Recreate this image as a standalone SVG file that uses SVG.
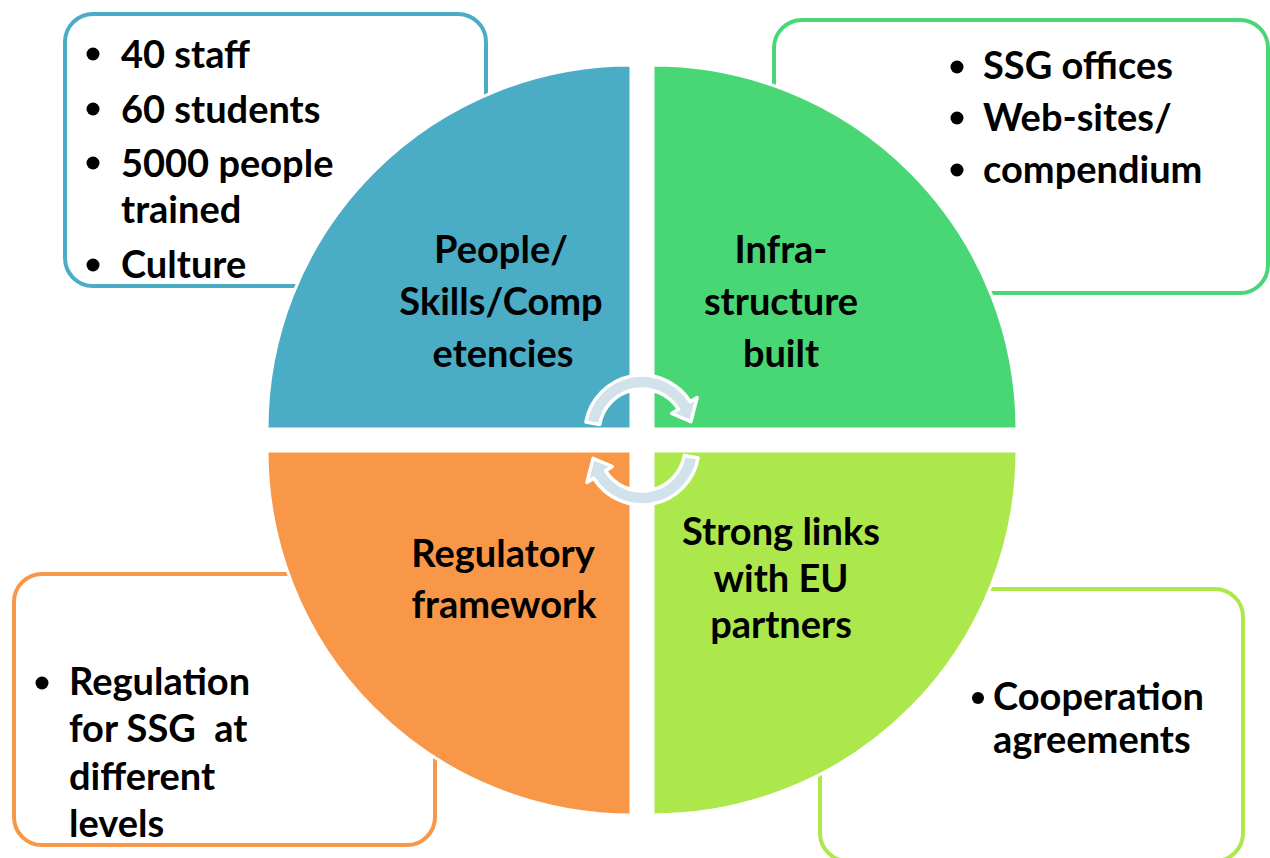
<svg xmlns="http://www.w3.org/2000/svg" width="1270" height="858" viewBox="0 0 1270 858">
<style>
.box{fill:#ffffff;stroke-width:4}
.q{stroke:#ffffff;stroke-width:3}
.t{font-family:Lato,"Open Sans","Liberation Sans",sans-serif;font-weight:bold;font-size:38px;fill:#000000}
.c{text-anchor:middle}
.b{fill:#000000}
.arr{fill:#D2E2EA;stroke:#ffffff;stroke-width:3.5;stroke-linejoin:round}
</style>
<rect width="1270" height="858" fill="#ffffff"/>
<g id="node-people">
<rect class="box" x="65" y="14" width="421" height="272" rx="28" stroke="#4BACC6"/>
<path class="q" d="M631,429 L267,429 A364,364 0 0 1 631,65 Z" fill="#4BACC6"/>
<circle class="b" cx="93" cy="54" r="6.5"/>
<circle class="b" cx="93" cy="109" r="6.5"/>
<circle class="b" cx="93" cy="163" r="6.5"/>
<circle class="b" cx="93" cy="265" r="6.5"/>
<text class="t" x="121" y="68">40 staff</text>
<text class="t" x="121" y="123">60 students</text>
<text class="t" x="121" y="177">5000 people</text>
<text class="t" x="121" y="223">trained</text>
<text class="t" x="121" y="278">Culture</text>
<text class="t c" x="501" y="263">People/</text>
<text class="t c" x="501" y="315">Skills/Comp</text>
<text class="t c" x="503" y="367">etencies</text>
</g>
<g id="node-infra">
<rect class="box" x="774" y="20" width="494" height="273" rx="28" stroke="#49D675"/>
<path class="q" d="M653,429 L653,65 A364,364 0 0 1 1017,429 Z" fill="#49D675"/>
<circle class="b" cx="957" cy="67" r="6.5"/>
<circle class="b" cx="957" cy="118" r="6.5"/>
<circle class="b" cx="957" cy="170" r="6.5"/>
<text class="t" x="983" y="79">SSG offices</text>
<text class="t" x="983" y="131">Web-sites/</text>
<text class="t" x="983" y="183">compendium</text>
<text class="t c" x="781" y="263">Infra-</text>
<text class="t c" x="781" y="315">structure</text>
<text class="t c" x="781" y="367">built</text>
</g>
<g id="node-links">
<rect class="box" x="820" y="589" width="423" height="272" rx="28" stroke="#ACE84B"/>
<path class="q" d="M653,451 L1017,451 A364,364 0 0 1 653,815 Z" fill="#ACE84B"/>
<circle class="b" cx="978" cy="698" r="6"/>
<text class="t" x="993" y="710">Cooperation</text>
<text class="t" x="993" y="753">agreements</text>
<text class="t c" x="781" y="545">Strong links</text>
<text class="t c" x="781" y="592">with EU</text>
<text class="t c" x="781" y="638">partners</text>
</g>
<g id="node-regulatory">
<rect class="box" x="14" y="574" width="421" height="271" rx="28" stroke="#F79747"/>
<path class="q" d="M631,451 L631,815 A364,364 0 0 1 267,451 Z" fill="#F79747"/>
<circle class="b" cx="42" cy="683" r="6.5"/>
<text class="t" x="69" y="695">Regulation</text>
<text class="t" x="69" y="742" xml:space="preserve">for SSG  at</text>
<text class="t" x="69" y="790">different</text>
<text class="t" x="69" y="837">levels</text>
<text class="t c" x="503" y="567">Regulatory</text>
<text class="t c" x="504" y="618">framework</text>
</g>
<g id="connectors">
<path id="arrow-top" class="arr" d="M585.9,422.1 A57,57 0 0 1 690.3,401.8 L697.1,397.6 L690.9,421.6 L671.7,413.5 L678.5,409.2 A43,43 0 0 0 599.7,424.5 Z"/>
<path id="arrow-bottom" class="arr" transform="rotate(180 642 440)" d="M585.9,422.1 A57,57 0 0 1 690.3,401.8 L697.1,397.6 L690.9,421.6 L671.7,413.5 L678.5,409.2 A43,43 0 0 0 599.7,424.5 Z"/>
</g>
</svg>
